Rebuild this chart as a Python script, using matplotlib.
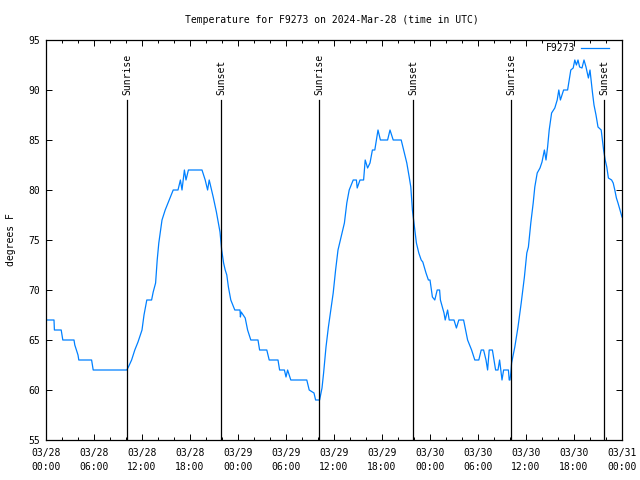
import matplotlib
matplotlib.use("Agg")
import matplotlib.pyplot as plt
from matplotlib.ticker import MultipleLocator

# ---- data (hours since 2024-03-28 00:00 UTC, degrees F) ----
hours = [0, 1.0, 1.05, 1.9, 2.0, 2.1, 3.5, 3.6, 3.8, 4.0, 4.1, 5.7, 5.8, 5.9, 10.1,
         10.3, 10.7, 11.1, 11.5, 12.0, 12.25, 12.6, 13.2, 13.4, 13.7, 13.9, 14.1, 14.5, 14.9,
         15.4, 15.9, 16.5, 16.8, 17.0, 17.3, 17.5, 17.8, 19.5, 19.9, 20.2, 20.4, 20.9, 21.3,
         21.75, 21.96, 22.2, 22.4, 22.6, 22.8, 23.1, 23.6, 24.25, 24.3, 24.4, 24.9, 25.2, 25.6,
         26.5, 26.7, 27.6, 27.9, 29.0, 29.2, 29.8, 30.0, 30.2, 30.6, 32.6, 32.9, 33.5, 33.7,
         34.2, 34.5, 34.7, 35.0, 35.3, 35.6, 35.9, 36.2, 36.5, 37.0, 37.3, 37.6, 37.9, 38.4,
         38.8, 38.9, 39.25, 39.7, 39.9, 40.2, 40.5, 40.8, 41.1, 41.5, 41.8, 42.7, 43.0, 43.4,
         44.4, 44.8, 45.1, 45.4, 45.6, 45.8, 46.0, 46.3, 46.6, 46.9, 47.1, 47.5, 47.8, 48.0,
         48.3, 48.6, 48.9, 49.2, 49.3, 49.75, 49.9, 50.2, 50.4, 51.0, 51.3, 51.6, 52.2, 52.4,
         52.7, 53.2, 53.6, 54.1, 54.4, 54.7, 55.0, 55.2, 55.4, 55.8, 56.0, 56.2, 56.5, 56.7,
         57.0, 57.2, 57.8, 57.9, 58.0, 58.1, 58.2, 58.6, 59.0, 59.4, 59.8, 60.1, 60.3, 60.6,
         60.9, 61.1, 61.4, 61.75, 62.0, 62.3, 62.5, 62.7, 62.9, 63.2, 63.6, 63.9, 64.1, 64.3,
         64.7, 65.2, 65.4, 65.6, 65.9, 66.1, 66.3, 66.5, 66.7, 67.0, 67.25, 67.5, 67.8, 68.0,
         68.3, 68.5, 68.75, 69.0, 69.4, 69.7, 69.9, 70.1, 70.3, 70.7, 70.9, 71.1, 71.3, 71.5,
         71.75, 72.0]
temps = [67, 67, 66, 66, 65.5, 65, 65, 64.5, 64, 63.5, 63, 63, 62.5, 62, 62,
         62.3, 63, 64, 64.8, 66, 67.5, 69, 69, 69.8, 70.7, 73, 74.7, 77, 78,
         79, 80, 80, 81, 80, 82, 81, 82, 82, 81, 80, 81, 79.3, 77.8,
         75.8, 74, 72.7, 72, 71.5, 70.3, 69, 68, 68, 67.3, 67.8, 67.2, 66, 65,
         65, 64, 64, 63, 63, 62, 62, 61.3, 62, 61, 61, 60, 59.7, 59,
         59, 60.2, 61.7, 64.3, 66.3, 68, 69.7, 72, 74, 75.7, 76.7, 78.7, 80, 81,
         81, 80.2, 81, 81, 83, 82.2, 82.7, 84, 84, 86, 85, 85, 86, 85,
         85, 83.7, 82.7, 81.3, 80.3, 78, 76.7, 74.7, 73.7, 73, 72.8, 71.7, 71, 71,
         69.3, 69, 70, 70, 69, 67.7, 67, 68, 67, 67, 66.2, 67, 67, 66.2,
         65, 64, 63, 63, 64, 64, 63, 62, 64, 64, 63, 62, 62, 63,
         61, 62, 62, 61, 61, 61.7, 62.7, 64.3, 66.3, 68.7, 71.3, 73.7, 74.3, 76.7,
         78.7, 80.3, 81.7, 82.2, 82.8, 84, 83, 84.3, 86, 87.7, 88.2, 89, 90, 89,
         90, 90, 91, 92, 92.2, 93, 92.5, 93, 92.3, 92.2, 93, 92.3, 91.2, 92,
         89.8, 88.5, 87.5, 86.3, 86, 84, 83, 82.3, 81.2, 81, 80.7, 80, 79.2, 78.7,
         78, 77.3]

sun_events = [10.125, 21.875, 34.125, 45.875, 58.125, 69.75]
sun_labels = ["Sunrise", "Sunset", "Sunrise", "Sunset", "Sunrise", "Sunset"]

xtick_hours = [0, 6, 12, 18, 24, 30, 36, 42, 48, 54, 60, 66, 72]
xtick_labels = ["03/28\n00:00", "03/28\n06:00", "03/28\n12:00", "03/28\n18:00",
                "03/29\n00:00", "03/29\n06:00", "03/29\n12:00", "03/29\n18:00",
                "03/30\n00:00", "03/30\n06:00", "03/30\n12:00", "03/30\n18:00",
                "03/31\n00:00"]
yticks = [55, 60, 65, 70, 75, 80, 85, 90, 95]

series_name = "F9273"
title = "Temperature for F9273 on 2024-Mar-28 (time in UTC)"

# ---- plot ----
plt.rcParams['font.family'] = ['DejaVu Sans Mono']
FS = 7

fig = plt.figure(figsize=(6.4, 4.8), dpi=100)
ax = fig.add_axes([46/640, 40/480, 576/640, 400/480])

ax.plot(hours, temps, color='#0080ff', lw=0.9)

for t, lab in zip(sun_events, sun_labels):
    ax.plot([t, t], [55, 89], color='black', lw=0.9)
    ax.text(t, 89.5, lab, rotation=90, ha='center', va='bottom', fontsize=FS)

ax.set_xlim(0, 72)
ax.set_ylim(55, 95)
ax.set_xticks(xtick_hours)
ax.set_xticklabels(xtick_labels, fontsize=FS, linespacing=1.5)
ax.xaxis.set_minor_locator(MultipleLocator(2))
ax.set_yticks(yticks)
ax.set_yticklabels([str(v) for v in yticks], fontsize=FS)

ax.tick_params(which='both', direction='in', top=True, right=True, width=0.7)
ax.tick_params(axis='x', which='major', length=4, pad=6)
ax.tick_params(axis='x', which='minor', length=2.5)
ax.tick_params(axis='y', which='major', length=4, pad=4)
for s in ax.spines.values():
    s.set_linewidth(0.9)

ax.set_ylabel("degrees F", fontsize=FS, labelpad=9)
fig.text(332/640, 1 - 20/480, title, ha='center', va='center', fontsize=FS)

# legend drawn manually at top right
ax.text(0.918, 0.98, series_name, transform=ax.transAxes, ha='right', va='center', fontsize=FS)
ax.plot([0.929, 0.977], [0.98, 0.98], transform=ax.transAxes, color='#0080ff', lw=0.9)

fig.savefig("out.png", dpi=100)
